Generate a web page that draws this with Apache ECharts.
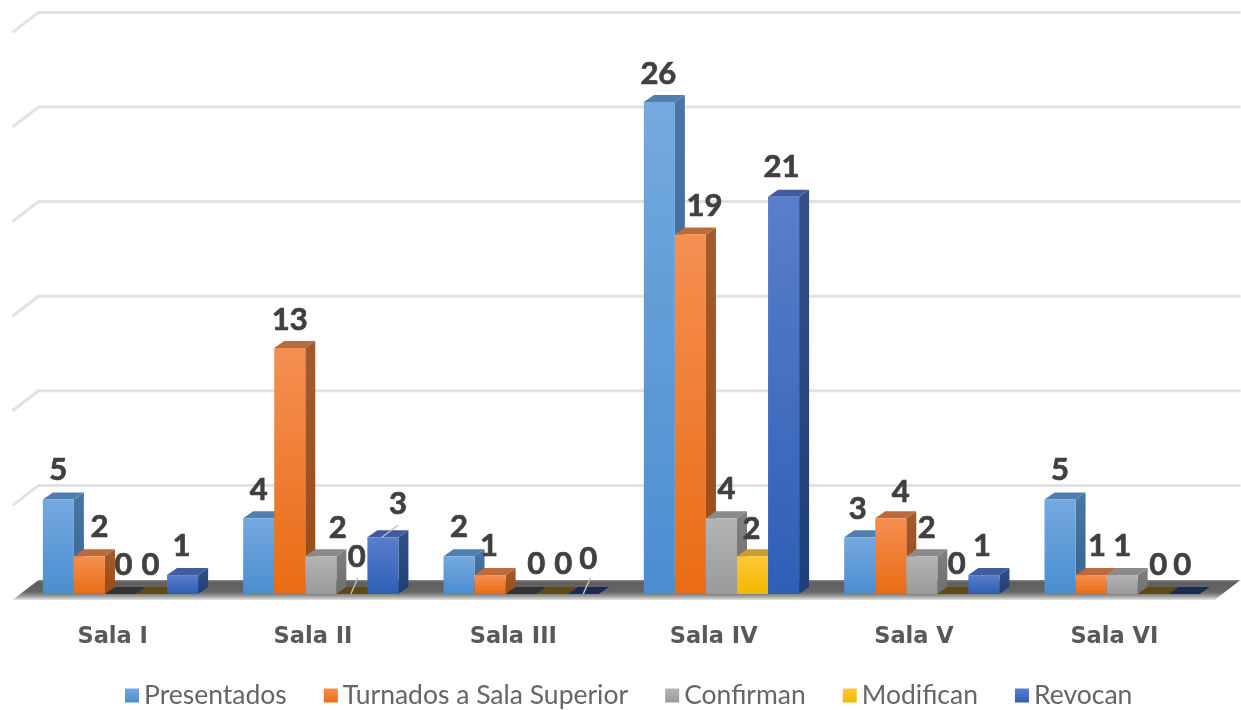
<!DOCTYPE html>
<html><head><meta charset="utf-8">
<style>html,body{margin:0;padding:0;background:#fff}#c{width:1241px;height:710px;filter:blur(.7px)}</style>
<script src="https://cdn.jsdelivr.net/npm/echarts@6/dist/echarts.min.js"></script>
</head><body><div id="c"></div>
<script>
const categories = ['Sala I','Sala II','Sala III','Sala IV','Sala V','Sala VI'];
const yTicks = [0,5,10,15,20,25,30];
const presentados = [5,4,2,26,3,5];
const turnados = [2,13,1,19,4,1];
const confirman = [0,2,0,4,2,1];
const modifican = [0,0,0,2,0,0];
const revocan = [1,3,0,21,1,0];

const FONT = 'Lato';
const G = echarts.graphic;
const grad = (a,b)=>new G.LinearGradient(0,0,0,1,[{offset:0,color:a},{offset:1,color:b}]);
const styles = [
 {name:'Presentados',data:presentados,f:['#74a9df','#4a8ed0'],s:['#4a76a3','#35648f'],t:'#4f7fae',z:'#35648f',
  dx:[0,0,0,-1,-2,0],dy:[-30,-29,-30,-29,-29,-30]},
 {name:'Turnados a Sala Superior',data:turnados,f:['#f58f52','#e96c14'],s:['#a35a2e','#9c4c14'],t:'#bb6a3c',z:'#9c4c14',
  dx:[10,0,-1,14,10,6],dy:[-30,-29,-30,-29,-27,-30]},
 {name:'Confirman',data:confirman,f:['#b4b4b4','#9a9a9a'],s:['#808080','#6e6e6e'],t:'#8a8a8a',z:'#333333',
  dx:[3,17,15,5,5,0],dy:[-30,-29,-31,-30,-29,-30]},
 {name:'Modifican',data:modifican,f:['#ffc935','#f2b800'],s:['#b58f20','#a88410'],t:'#c9a02e',z:'#5e4a12',
  dx:[-1,5,11,-1,4,5],dy:[-30,-38,-31,-28,-31,-30]},
 {name:'Revocan',data:revocan,f:['#5a7ecb','#2e5fb6'],s:['#344f86','#1e3f7a'],t:'#3f5c9e',z:'#1a2a52',
  dx:[-1,15,5,-2,-2,-2],dy:[-30,-34,-36,-30,-30,-30]}
];
// leader lines, keyed series:category, end point relative to the bar's front-top centre
const leaders = {'3:1':[[-1,0],[6,-16]], '4:1':[[-1,0],[15,-12]], '4:2':[[0,0],[7,-16]]};

const DX=10, DY=7, WALL_DX=26, WALL_BACK=14, WALL_FRONT=6, SHIFT=7.8, RATIO=0.155;

function geom(api,si){
  const i=api.value(0), v=api.value(1), p=api.coord([i,v]), z=api.coord([i,0]);
  const band=api.size([1,0])[0], w=band*RATIO;
  const x=p[0]+SHIFT+(si-2.5)*w;
  return {x,w,top:p[1],base:z[1],v,i};
}
function barItem(si){
  const st=styles[si];
  return function(params,api){
    const g=geom(api,si), {x,w,top,base}=g, children=[];
    const topFace=[[x,top],[x+DX,top-DY],[x+w+DX,top-DY],[x+w,top]];
    if(g.v===0){
      children.push({type:'polygon',shape:{points:topFace},style:{fill:st.z}});
    }else{
      children.push({type:'polygon',shape:{points:[[x+w,top],[x+w+DX,top-DY],[x+w+DX,base-DY],[x+w,base]]},style:{fill:grad(st.s[0],st.s[1])}});
      children.push({type:'polygon',shape:{points:topFace},style:{fill:st.t}});
      children.push({type:'rect',shape:{x,y:top,width:w,height:base-top},style:{fill:grad(st.f[0],st.f[1])}});
    }
    return {type:'group',children};
  };
}
function labelItem(si){
  const st=styles[si];
  return function(params,api){
    const g=geom(api,si), cx=g.x+g.w/2, children=[];
    const l=leaders[si+':'+g.i];
    if(l) children.push({type:'line',shape:{x1:cx+l[0][0],y1:g.top+l[0][1],x2:cx+l[1][0],y2:g.top+l[1][1]},style:{stroke:'#bdbdbd',lineWidth:1.5}});
    children.push({type:'text',style:{x:cx+st.dx[g.i],y:g.top+st.dy[g.i]+.5,text:String(g.v),fill:'#404040',stroke:'#404040',lineWidth:.7,
      font:'bold 31px '+FONT,textAlign:'center',textVerticalAlign:'middle'}});
    return {type:'group',children};
  };
}
const chrome=[
 {type:'custom',silent:true,z:1,data:yTicks.filter(t=>t>0).map(t=>[0,t]),encode:{x:0,y:1},
  renderItem(params,api){
    const y=api.coord([0,api.value(1)])[1], c=params.coordSys, x0=c.x, x1=c.x+c.width;
    return {type:'polyline',shape:{points:[[x0,y+WALL_FRONT],[x0+WALL_DX,y-WALL_BACK],[x1+WALL_DX,y-WALL_BACK]]},
      style:{fill:'none',stroke:'#e2e2e2',lineWidth:3}};
  }},
 {type:'custom',silent:true,z:2,data:[[0,0]],encode:{x:0,y:1},
  renderItem(params,api){
    const y=api.coord([0,0])[1], c=params.coordSys, x0=c.x, x1=c.x+c.width;
    return {type:'polygon',shape:{points:[[x0,y+WALL_FRONT],[x0+WALL_DX,y-WALL_BACK],[x1+WALL_DX,y-WALL_BACK],[x1,y+WALL_FRONT]]},
      style:{fill:new G.LinearGradient(0,0,0,1,[{offset:0,color:'#8a8a8a'},{offset:.12,color:'#5f5f5f'},{offset:.6,color:'#666666'},{offset:.8,color:'#9a9a9a'},{offset:1,color:'#e4e4e4'}])}};
  }}
];
const series=[...chrome];
styles.forEach((st,si)=>{
  const d=st.data.map((v,i)=>[i,v]);
  series.push({type:'custom',name:st.name,z:3,data:d,encode:{x:0,y:1},renderItem:barItem(si),itemStyle:{color:st.f[1]}});
});
styles.forEach((st,si)=>{
  const d=st.data.map((v,i)=>[i,v]);
  series.push({type:'custom',name:st.name,z:5,silent:true,data:d,encode:{x:0,y:1},renderItem:labelItem(si),itemStyle:{color:st.f[1]}});
});
const chart=echarts.init(document.getElementById('c'));
chart.setOption({
  animation:false,
  backgroundColor:'#fff',
  grid:{left:12.5,width:1202,top:26.4,height:567.6,containLabel:false},
  xAxis:{type:'category',data:categories,axisLine:{show:false},axisTick:{show:false},
    axisLabel:{margin:32,color:'#595959',fontFamily:'DejaVu Sans',fontWeight:'bold',fontSize:22.5}},
  yAxis:{type:'value',min:0,max:30,interval:5,show:false,splitLine:{show:false}},
  legend:{left:120,top:677,itemWidth:14,itemHeight:14,itemGap:37,icon:'rect',
    textStyle:{color:'#666666',fontFamily:FONT,fontSize:26.5},
    data:styles.map(s=>({name:s.name,itemStyle:{color:grad(s.f[0],s.f[1])}}))},
  series
});
</script></body></html>
